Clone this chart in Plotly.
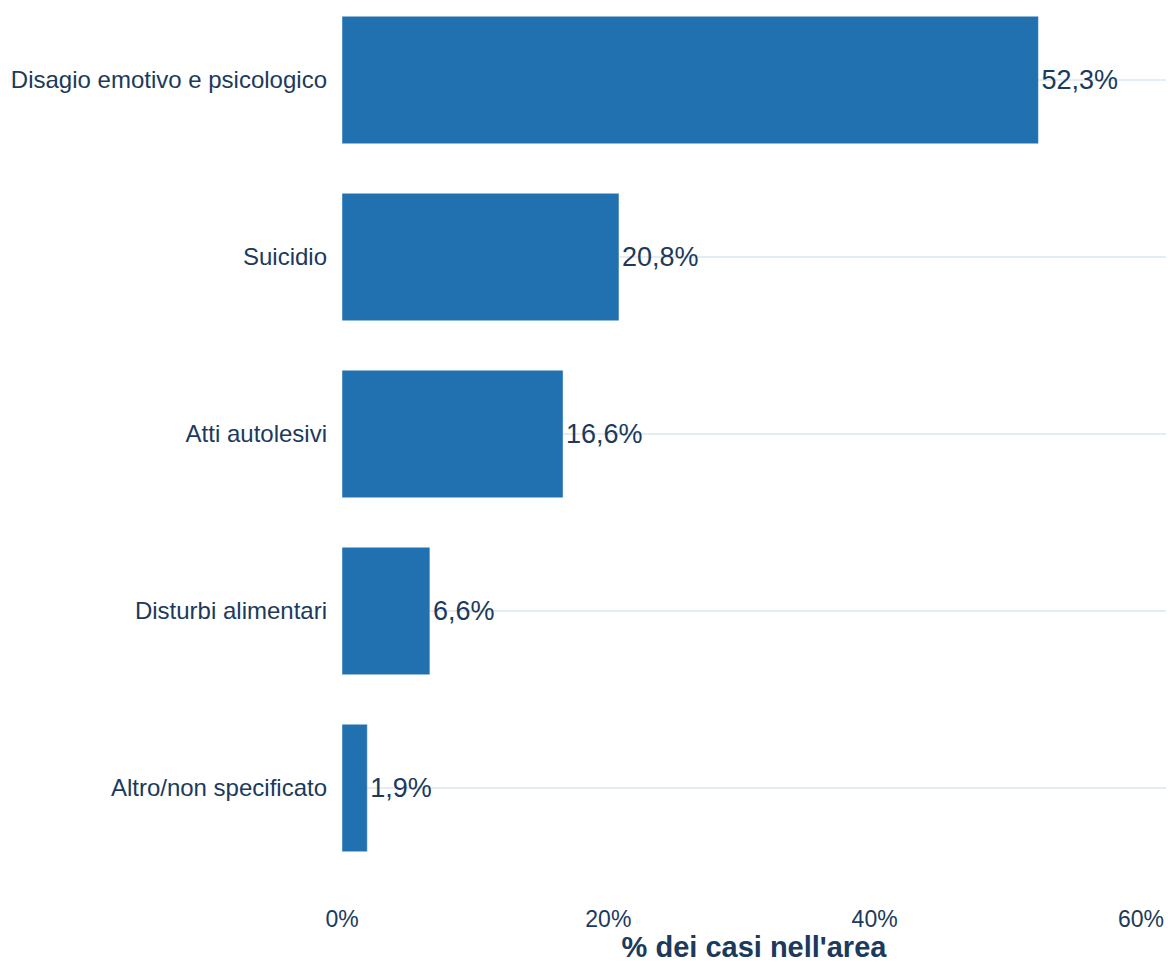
import plotly.graph_objects as go

# Categories, top to bottom
categorie = [
    "Disagio emotivo e psicologico",
    "Suicidio",
    "Atti autolesivi",
    "Disturbi alimentari",
    "Altro/non specificato",
]
percentuali = [52.3, 20.8, 16.6, 6.6, 1.9]
etichette = ["52,3%", "20,8%", "16,6%", "6,6%", "1,9%"]
tick_valori = [0, 20, 40, 60]
tick_testi = ["0%", "20%", "40%", "60%"]

testo_scuro = "#1b3a5c"

fig = go.Figure(
    go.Bar(
        x=percentuali,
        y=categorie,
        orientation="h",
        text=etichette,
        textposition="outside",
        textfont=dict(size=27, color=testo_scuro, family="Liberation Sans, Arial"),
        cliponaxis=False,
        width=0.72,
        marker=dict(color="#2170af", line=dict(color="rgba(255,255,255,0.45)", width=1)),
        hoverinfo="skip",
    )
)

fig.update_layout(
    width=1168,
    height=963,
    margin=dict(l=342, r=2, t=0, b=83),
    paper_bgcolor="white",
    plot_bgcolor="white",
    showlegend=False,
    font=dict(family="Liberation Sans, Arial", color=testo_scuro),
    xaxis=dict(
        range=[0, 61.88],
        tickvals=tick_valori,
        ticktext=tick_testi,
        showgrid=False,
        zeroline=False,
        showline=False,
        tickfont=dict(size=23, color=testo_scuro),
        ticklabelstandoff=23,
        title=dict(
            text="<b>% dei casi nell'area</b>",
            font=dict(size=29, color=testo_scuro),
            standoff=0,
        ),
    ),
    yaxis=dict(
        categoryorder="array",
        categoryarray=categorie[::-1],
        range=[-0.52, 4.452],
        showgrid=True,
        gridcolor="#e4edf6",
        gridwidth=2,
        zeroline=False,
        showline=False,
        tickfont=dict(size=24, color=testo_scuro),
        ticklabelstandoff=14,
    ),
)

fig.write_html("out.html")
